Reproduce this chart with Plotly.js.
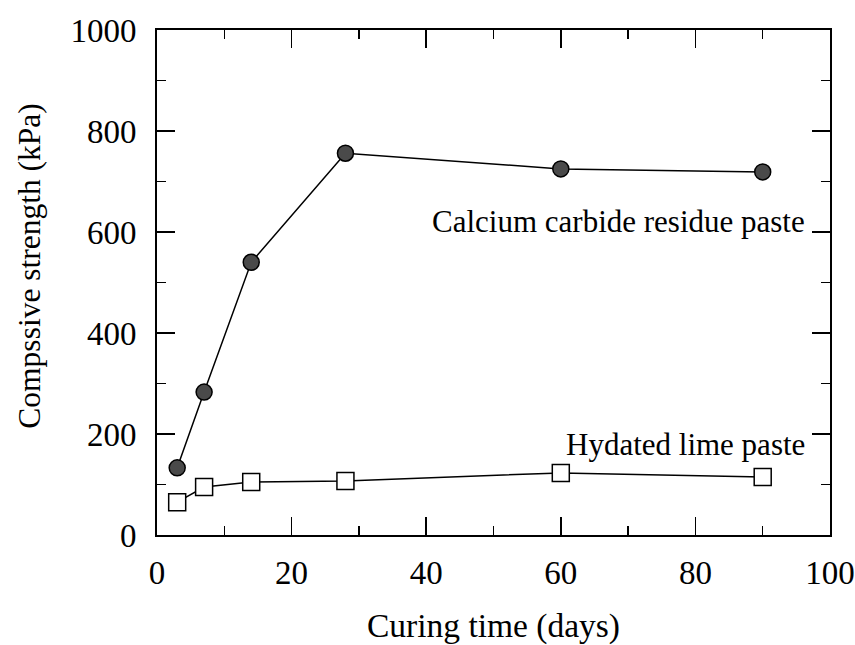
<!DOCTYPE html>
<html><head><meta charset="utf-8">
<script src="https://cdn.plot.ly/plotly-3.0.1.min.js"></script>
<style>html,body{margin:0;padding:0;background:#fff}</style>
</head><body>
<div id="chart" style="width:855px;height:645px"></div>
<script>
const days = [3, 7, 14, 28, 60, 90];
const ccrPaste = [133, 283, 540, 756, 725, 719];
const limePaste = [65, 95, 105, 107, 123, 115];
const ccrLabel = "Calcium carbide residue paste";
const limeLabel = "Hydated lime paste";
const xTitle = "Curing time (days)";
const yTitle = "Compssive strength (kPa)";

const font = "Liberation Serif, Times New Roman, serif";
const traces = [
  {x: days, y: ccrPaste, mode: "lines+markers", name: ccrLabel,
   line: {color: "#000", width: 1.5},
   marker: {symbol: "circle", size: 16, color: "#4a4a4a", line: {color: "#000", width: 1.5}}},
  {x: days, y: limePaste, mode: "lines+markers", name: limeLabel,
   line: {color: "#000", width: 1.5},
   marker: {symbol: "square", size: 17, color: "#fff", line: {color: "#000", width: 1.5}}}
];
const axisCommon = {
  showgrid: false, zeroline: false, showline: true, linecolor: "#000", linewidth: 2,
  mirror: "ticks", ticks: "inside", ticklen: 18, tickwidth: 1.5, tickcolor: "#000",
  tickfont: {family: font, size: 33, color: "#000"}
};
const layout = {
  width: 855, height: 645, showlegend: false,
  paper_bgcolor: "#fff", plot_bgcolor: "#fff",
  margin: {l: 157, r: 25, t: 30, b: 110},
  xaxis: Object.assign({}, axisCommon, {range: [0, 100], dtick: 20, tick0: 0,
    ticklabelstandoff: 7,
    minor: {dtick: 10, ticks: "inside", ticklen: 9, tickwidth: 1.5, tickcolor: "#000"},
    title: {text: xTitle, font: {family: font, size: 33.5, color: "#000"}, standoff: 30}}),
  yaxis: Object.assign({}, axisCommon, {range: [0, 1000], dtick: 200, tick0: 0,
    ticklabelstandoff: 12,
    minor: {dtick: 100, ticks: "inside", ticklen: 9, tickwidth: 1.5, tickcolor: "#000"}}),
  annotations: [
    {x: -0.189, y: 0.533, xref: "paper", yref: "paper", text: yTitle, showarrow: false,
     textangle: -90, xanchor: "center", yanchor: "middle",
     font: {family: font, size: 31.5, color: "#000"}},
    {x: 96.6, y: 620, xref: "x", yref: "y", text: ccrLabel, showarrow: false,
     xanchor: "right", yanchor: "middle", font: {family: font, size: 31, color: "#000"}},
    {x: 96.6, y: 180, xref: "x", yref: "y", text: limeLabel, showarrow: false,
     xanchor: "right", yanchor: "middle", font: {family: font, size: 31, color: "#000"}}
  ]
};
Plotly.newPlot("chart", traces, layout, {displayModeBar: false, staticPlot: true});
</script>
</body></html>
